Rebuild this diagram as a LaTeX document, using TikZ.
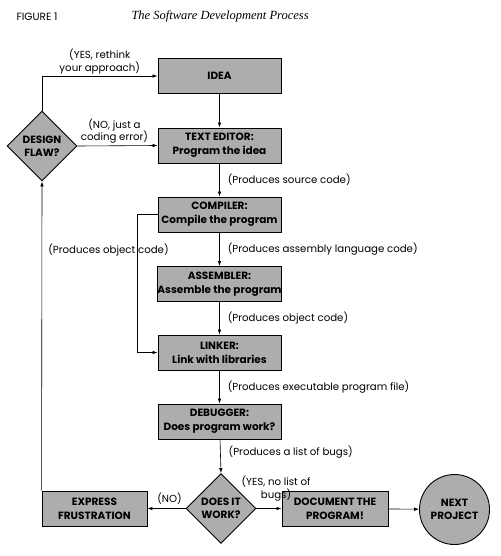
\documentclass[tikz,border=0pt]{standalone}
\usepackage{fontspec}
\setmainfont{Poppins}
\newfontfamily\titleserif{Liberation Serif}
\usetikzlibrary{shapes.geometric,arrows.meta}
\definecolor{boxgray}{HTML}{ADADAD}
\begin{document}
\begin{tikzpicture}[x=1pt,y=-1pt,
  procbox/.style={draw, line width=0.9pt, fill=boxgray, minimum width=123pt, minimum height=35pt,
    align=center, inner sep=0pt, font=\fontsize{10.5}{14}\selectfont\bfseries},
  decision/.style={draw, line width=0.9pt, fill=boxgray, diamond, aspect=1, minimum size=70pt,
    align=center, inner sep=0pt, font=\fontsize{10.5}{13}\selectfont\bfseries},
  endcircle/.style={draw, line width=0.9pt, fill=boxgray, circle, minimum size=70pt,
    align=center, inner sep=0pt, font=\fontsize{10.5}{13}\selectfont\bfseries},
  lbl/.style={font=\fontsize{10.2}{12.5}\selectfont, inner sep=2pt, align=center},
  arr/.style={line width=0.6pt, -{Latex[length=5pt,width=3.5pt]}},
  plain/.style={line width=0.6pt}
]
\useasboundingbox (0,0) rectangle (500,556);
\fill[white] (0,0) rectangle (500,556);

\node[anchor=west, font=\fontsize{10.5}{12}\selectfont] (fig) at (13,17) {FIGURE 1};
\node[anchor=west, font=\fontsize{12.5}{15}\selectfont\titleserif\itshape] (ttl) at (128,16) {The Software Development Process};

\node[procbox] (idea) at (219.5,76) {IDEA};
\node[procbox] (editor) at (219.5,145.5) {TEXT EDITOR:\\Program the idea};
\node[procbox] (compiler) at (219.5,214.5) {COMPILER:\\Compile the program};
\node[procbox] (assembler) at (219.5,284) {ASSEMBLER:\\Assemble the program};
\node[procbox] (linker) at (219.5,352.5) {LINKER:\\Link with libraries};
\node[procbox] (debugger) at (219.5,421.5) {DEBUGGER:\\Does program work?};
\node[decision] (works) at (221,508.5) {DOES IT\\WORK?};
\node[procbox, minimum width=105pt] (express) at (94.5,508.5) {EXPRESS\\FRUSTRATION};
\node[procbox, minimum width=106pt] (doc) at (335,508.5) {DOCUMENT THE\\PROGRAM!};
\node[endcircle] (next) at (454.5,509.5) {NEXT\\PROJECT};
\node[decision] (flaw) at (42,146) {DESIGN\\FLAW?};

\coordinate (cbend) at (137,214.5);

\draw[arr] (idea) -- (editor);
\draw[arr] (editor) -- (compiler) node[lbl, midway, right=6pt] {(Produces source code)};
\draw[arr] (compiler) -- (assembler) node[lbl, midway, right=6pt] {(Produces assembly language code)};
\draw[arr] (assembler) -- (linker) node[lbl, midway, right=6pt] {(Produces object code)};
\draw[arr] (linker) -- (debugger) node[lbl, midway, right=6pt] {(Produces executable program file)};
\draw[arr] (debugger) -- (works.north) node[lbl, pos=0.38, right=6pt] {(Produces a list of bugs)};
\draw[arr] (compiler.west) -- (cbend) |- (linker.west);
\node[lbl] (objlbl) at (108.5,250) {(Produces object code)};
\draw[arr] (works.west) -- (express.east) node[lbl, midway, above, xshift=3pt, yshift=2pt] {(NO)};
\draw[arr] (works.east) -- (doc.west) node[lbl, midway, above, xshift=7pt, yshift=5pt] {(YES, no list of\\bugs)};
\draw[arr] (doc) -- (next);
\draw[arr] (express.north west) -- (flaw.south);
\draw[arr] (flaw.north) |- (idea.west) node[lbl, pos=0.75, above] {(YES, rethink\\your approach)};
\draw[arr] (flaw.east) -- (editor.west) node[lbl, midway, above, xshift=-3pt] {(NO, just a\\coding error)};
\end{tikzpicture}
\end{document}
